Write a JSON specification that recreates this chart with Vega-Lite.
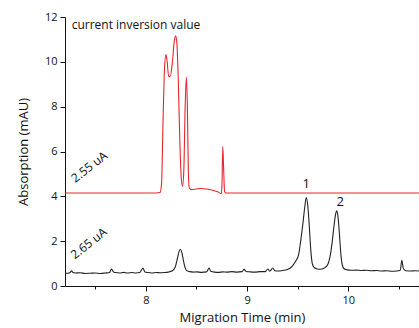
{
  "$schema": "https://vega.github.io/schema/vega-lite/v6.json",
  "width": 354,
  "height": 269,
  "autosize": {"type": "none"},
  "padding": {"left": 65, "top": 17, "right": 0, "bottom": 42},
  "background": "white",
  "config": {
    "view": {"stroke": null},
    "font": "Open Sans",
    "axis": {"grid": false, "domainColor": "#111", "tickColor": "#111", "labelColor": "#111", "titleColor": "#111", "labelFont": "Open Sans", "titleFont": "Open Sans", "titleFontWeight": "normal"}
  },
  "datasets": {
    "traces": [
      {"series": "2.55 uA", "t": 7.20, "a": 4.15},
      {"series": "2.55 uA", "t": 8.10, "a": 4.15},
      {"series": "2.55 uA", "t": 8.14, "a": 4.17},
      {"series": "2.55 uA", "t": 8.155, "a": 4.6},
      {"series": "2.55 uA", "t": 8.17, "a": 7.5},
      {"series": "2.55 uA", "t": 8.185, "a": 9.8},
      {"series": "2.55 uA", "t": 8.198, "a": 10.33},
      {"series": "2.55 uA", "t": 8.21, "a": 10.0},
      {"series": "2.55 uA", "t": 8.225, "a": 9.35},
      {"series": "2.55 uA", "t": 8.24, "a": 9.35},
      {"series": "2.55 uA", "t": 8.26, "a": 9.9},
      {"series": "2.55 uA", "t": 8.28, "a": 10.9},
      {"series": "2.55 uA", "t": 8.293, "a": 11.16},
      {"series": "2.55 uA", "t": 8.305, "a": 10.9},
      {"series": "2.55 uA", "t": 8.32, "a": 9.2},
      {"series": "2.55 uA", "t": 8.335, "a": 6.5},
      {"series": "2.55 uA", "t": 8.35, "a": 4.8},
      {"series": "2.55 uA", "t": 8.362, "a": 4.45},
      {"series": "2.55 uA", "t": 8.375, "a": 5.2},
      {"series": "2.55 uA", "t": 8.388, "a": 8.0},
      {"series": "2.55 uA", "t": 8.40, "a": 9.32},
      {"series": "2.55 uA", "t": 8.41, "a": 8.0},
      {"series": "2.55 uA", "t": 8.42, "a": 5.0},
      {"series": "2.55 uA", "t": 8.43, "a": 4.36},
      {"series": "2.55 uA", "t": 8.45, "a": 4.30},
      {"series": "2.55 uA", "t": 8.50, "a": 4.33},
      {"series": "2.55 uA", "t": 8.54, "a": 4.35},
      {"series": "2.55 uA", "t": 8.60, "a": 4.33},
      {"series": "2.55 uA", "t": 8.66, "a": 4.27},
      {"series": "2.55 uA", "t": 8.71, "a": 4.20},
      {"series": "2.55 uA", "t": 8.745, "a": 4.12},
      {"series": "2.55 uA", "t": 8.752, "a": 4.5},
      {"series": "2.55 uA", "t": 8.76, "a": 6.22},
      {"series": "2.55 uA", "t": 8.768, "a": 5.3},
      {"series": "2.55 uA", "t": 8.778, "a": 4.2},
      {"series": "2.55 uA", "t": 8.79, "a": 4.15},
      {"series": "2.55 uA", "t": 10.70, "a": 4.15},
      {"series": "2.65 uA", "t": 7.20, "a": 0.58},
      {"series": "2.65 uA", "t": 7.23, "a": 0.57},
      {"series": "2.65 uA", "t": 7.25, "a": 0.60},
      {"series": "2.65 uA", "t": 7.265, "a": 0.68},
      {"series": "2.65 uA", "t": 7.28, "a": 0.60},
      {"series": "2.65 uA", "t": 7.30, "a": 0.58},
      {"series": "2.65 uA", "t": 7.35, "a": 0.59},
      {"series": "2.65 uA", "t": 7.40, "a": 0.56},
      {"series": "2.65 uA", "t": 7.45, "a": 0.57},
      {"series": "2.65 uA", "t": 7.50, "a": 0.58},
      {"series": "2.65 uA", "t": 7.55, "a": 0.56},
      {"series": "2.65 uA", "t": 7.60, "a": 0.58},
      {"series": "2.65 uA", "t": 7.64, "a": 0.60},
      {"series": "2.65 uA", "t": 7.66, "a": 0.76},
      {"series": "2.65 uA", "t": 7.68, "a": 0.62},
      {"series": "2.65 uA", "t": 7.70, "a": 0.60},
      {"series": "2.65 uA", "t": 7.74, "a": 0.58},
      {"series": "2.65 uA", "t": 7.78, "a": 0.61},
      {"series": "2.65 uA", "t": 7.82, "a": 0.58},
      {"series": "2.65 uA", "t": 7.86, "a": 0.60},
      {"series": "2.65 uA", "t": 7.90, "a": 0.58},
      {"series": "2.65 uA", "t": 7.94, "a": 0.60},
      {"series": "2.65 uA", "t": 7.97, "a": 0.80},
      {"series": "2.65 uA", "t": 7.99, "a": 0.63},
      {"series": "2.65 uA", "t": 8.02, "a": 0.60},
      {"series": "2.65 uA", "t": 8.06, "a": 0.58},
      {"series": "2.65 uA", "t": 8.10, "a": 0.60},
      {"series": "2.65 uA", "t": 8.14, "a": 0.59},
      {"series": "2.65 uA", "t": 8.18, "a": 0.60},
      {"series": "2.65 uA", "t": 8.22, "a": 0.62},
      {"series": "2.65 uA", "t": 8.26, "a": 0.68},
      {"series": "2.65 uA", "t": 8.29, "a": 0.85},
      {"series": "2.65 uA", "t": 8.31, "a": 1.20},
      {"series": "2.65 uA", "t": 8.325, "a": 1.50},
      {"series": "2.65 uA", "t": 8.34, "a": 1.64},
      {"series": "2.65 uA", "t": 8.355, "a": 1.50},
      {"series": "2.65 uA", "t": 8.37, "a": 1.15},
      {"series": "2.65 uA", "t": 8.385, "a": 0.85},
      {"series": "2.65 uA", "t": 8.40, "a": 0.70},
      {"series": "2.65 uA", "t": 8.43, "a": 0.64},
      {"series": "2.65 uA", "t": 8.47, "a": 0.62},
      {"series": "2.65 uA", "t": 8.50, "a": 0.63},
      {"series": "2.65 uA", "t": 8.55, "a": 0.61},
      {"series": "2.65 uA", "t": 8.60, "a": 0.63},
      {"series": "2.65 uA", "t": 8.625, "a": 0.80},
      {"series": "2.65 uA", "t": 8.64, "a": 0.66},
      {"series": "2.65 uA", "t": 8.68, "a": 0.62},
      {"series": "2.65 uA", "t": 8.72, "a": 0.61},
      {"series": "2.65 uA", "t": 8.76, "a": 0.63},
      {"series": "2.65 uA", "t": 8.80, "a": 0.62},
      {"series": "2.65 uA", "t": 8.85, "a": 0.64},
      {"series": "2.65 uA", "t": 8.90, "a": 0.62},
      {"series": "2.65 uA", "t": 8.95, "a": 0.64},
      {"series": "2.65 uA", "t": 8.97, "a": 0.74},
      {"series": "2.65 uA", "t": 8.99, "a": 0.65},
      {"series": "2.65 uA", "t": 9.03, "a": 0.63},
      {"series": "2.65 uA", "t": 9.08, "a": 0.62},
      {"series": "2.65 uA", "t": 9.13, "a": 0.64},
      {"series": "2.65 uA", "t": 9.18, "a": 0.64},
      {"series": "2.65 uA", "t": 9.205, "a": 0.76},
      {"series": "2.65 uA", "t": 9.225, "a": 0.66},
      {"series": "2.65 uA", "t": 9.255, "a": 0.80},
      {"series": "2.65 uA", "t": 9.275, "a": 0.68},
      {"series": "2.65 uA", "t": 9.30, "a": 0.67},
      {"series": "2.65 uA", "t": 9.34, "a": 0.68},
      {"series": "2.65 uA", "t": 9.38, "a": 0.71},
      {"series": "2.65 uA", "t": 9.42, "a": 0.78},
      {"series": "2.65 uA", "t": 9.45, "a": 0.90},
      {"series": "2.65 uA", "t": 9.48, "a": 1.10},
      {"series": "2.65 uA", "t": 9.51, "a": 1.40},
      {"series": "2.65 uA", "t": 9.53, "a": 2.00},
      {"series": "2.65 uA", "t": 9.55, "a": 2.70},
      {"series": "2.65 uA", "t": 9.57, "a": 3.50},
      {"series": "2.65 uA", "t": 9.585, "a": 3.95},
      {"series": "2.65 uA", "t": 9.60, "a": 3.60},
      {"series": "2.65 uA", "t": 9.615, "a": 2.70},
      {"series": "2.65 uA", "t": 9.63, "a": 1.60},
      {"series": "2.65 uA", "t": 9.645, "a": 1.00},
      {"series": "2.65 uA", "t": 9.66, "a": 0.84},
      {"series": "2.65 uA", "t": 9.68, "a": 0.78},
      {"series": "2.65 uA", "t": 9.71, "a": 0.75},
      {"series": "2.65 uA", "t": 9.74, "a": 0.76},
      {"series": "2.65 uA", "t": 9.77, "a": 0.82},
      {"series": "2.65 uA", "t": 9.80, "a": 0.98},
      {"series": "2.65 uA", "t": 9.82, "a": 1.30},
      {"series": "2.65 uA", "t": 9.84, "a": 1.90},
      {"series": "2.65 uA", "t": 9.86, "a": 2.70},
      {"series": "2.65 uA", "t": 9.875, "a": 3.20},
      {"series": "2.65 uA", "t": 9.888, "a": 3.35},
      {"series": "2.65 uA", "t": 9.90, "a": 3.05},
      {"series": "2.65 uA", "t": 9.915, "a": 2.20},
      {"series": "2.65 uA", "t": 9.93, "a": 1.30},
      {"series": "2.65 uA", "t": 9.945, "a": 0.88},
      {"series": "2.65 uA", "t": 9.96, "a": 0.77},
      {"series": "2.65 uA", "t": 9.99, "a": 0.72},
      {"series": "2.65 uA", "t": 10.03, "a": 0.70},
      {"series": "2.65 uA", "t": 10.08, "a": 0.71},
      {"series": "2.65 uA", "t": 10.13, "a": 0.69},
      {"series": "2.65 uA", "t": 10.18, "a": 0.70},
      {"series": "2.65 uA", "t": 10.23, "a": 0.68},
      {"series": "2.65 uA", "t": 10.28, "a": 0.69},
      {"series": "2.65 uA", "t": 10.33, "a": 0.67},
      {"series": "2.65 uA", "t": 10.38, "a": 0.68},
      {"series": "2.65 uA", "t": 10.43, "a": 0.66},
      {"series": "2.65 uA", "t": 10.48, "a": 0.67},
      {"series": "2.65 uA", "t": 10.515, "a": 0.70},
      {"series": "2.65 uA", "t": 10.53, "a": 1.15},
      {"series": "2.65 uA", "t": 10.545, "a": 0.78},
      {"series": "2.65 uA", "t": 10.57, "a": 0.68},
      {"series": "2.65 uA", "t": 10.62, "a": 0.67},
      {"series": "2.65 uA", "t": 10.66, "a": 0.68},
      {"series": "2.65 uA", "t": 10.70, "a": 0.67}
    ],
    "rotlabels": [
      {"t": 7.44, "a": 5.31, "label": "2.55 uA"},
      {"t": 7.435, "a": 1.90, "label": "2.65 uA"}
    ],
    "peaklabels": [
      {"t": 9.584, "a": 4.54, "label": "1"},
      {"t": 9.92, "a": 3.74, "label": "2"}
    ],
    "title": [
      {"t": 7.266, "a": 11.65, "label": "current inversion value"}
    ]
  },
  "layer": [
    {
      "data": {"name": "traces"},
      "mark": {"type": "line", "strokeWidth": 1.1, "clip": true, "interpolate": "monotone"},
      "encoding": {
        "x": {
          "field": "t", "type": "quantitative",
          "scale": {"domain": [7.2, 10.7], "nice": false, "zero": false},
          "axis": {
            "title": "Migration Time (min)",
            "values": [7.5, 8, 8.5, 9, 9.5, 10, 10.5],
            "labelExpr": "datum.value % 1 === 0 ? format(datum.value, 'd') : ''",
            "tickSize": {"condition": {"test": "datum.value % 1 !== 0", "value": 3}, "value": 5},
            "labelFontSize": 11,
            "labelPadding": 3,
            "titleFontSize": 13,
            "titlePadding": 6
          }
        },
        "y": {
          "field": "a", "type": "quantitative",
          "scale": {"domain": [0, 12], "nice": false},
          "axis": {
            "title": "Absorption (mAU)",
            "values": [0, 1, 2, 3, 4, 5, 6, 7, 8, 9, 10, 11, 12],
            "labelExpr": "datum.value % 2 === 0 ? datum.label : ''",
            "tickSize": {"condition": {"test": "datum.value % 2 !== 0", "value": 3}, "value": 5},
            "labelFontSize": 11,
            "labelPadding": 3,
            "titleFontSize": 13,
            "titlePadding": 14
          }
        },
        "color": {
          "field": "series", "type": "nominal",
          "scale": {"domain": ["2.55 uA", "2.65 uA"], "range": ["#e8262b", "#222222"]},
          "legend": null
        }
      }
    },
    {
      "data": {"name": "rotlabels"},
      "mark": {"type": "text", "angle": 322, "fontSize": 12, "color": "#111", "align": "center", "baseline": "middle"},
      "encoding": {
        "x": {"field": "t", "type": "quantitative"},
        "y": {"field": "a", "type": "quantitative"},
        "text": {"field": "label"}
      }
    },
    {
      "data": {"name": "peaklabels"},
      "mark": {"type": "text", "fontSize": 13, "color": "#111", "align": "center", "baseline": "middle"},
      "encoding": {
        "x": {"field": "t", "type": "quantitative"},
        "y": {"field": "a", "type": "quantitative"},
        "text": {"field": "label"}
      }
    },
    {
      "data": {"name": "title"},
      "mark": {"type": "text", "fontSize": 12, "color": "#111", "align": "left", "baseline": "middle"},
      "encoding": {
        "x": {"field": "t", "type": "quantitative"},
        "y": {"field": "a", "type": "quantitative"},
        "text": {"field": "label"}
      }
    }
  ]
}
